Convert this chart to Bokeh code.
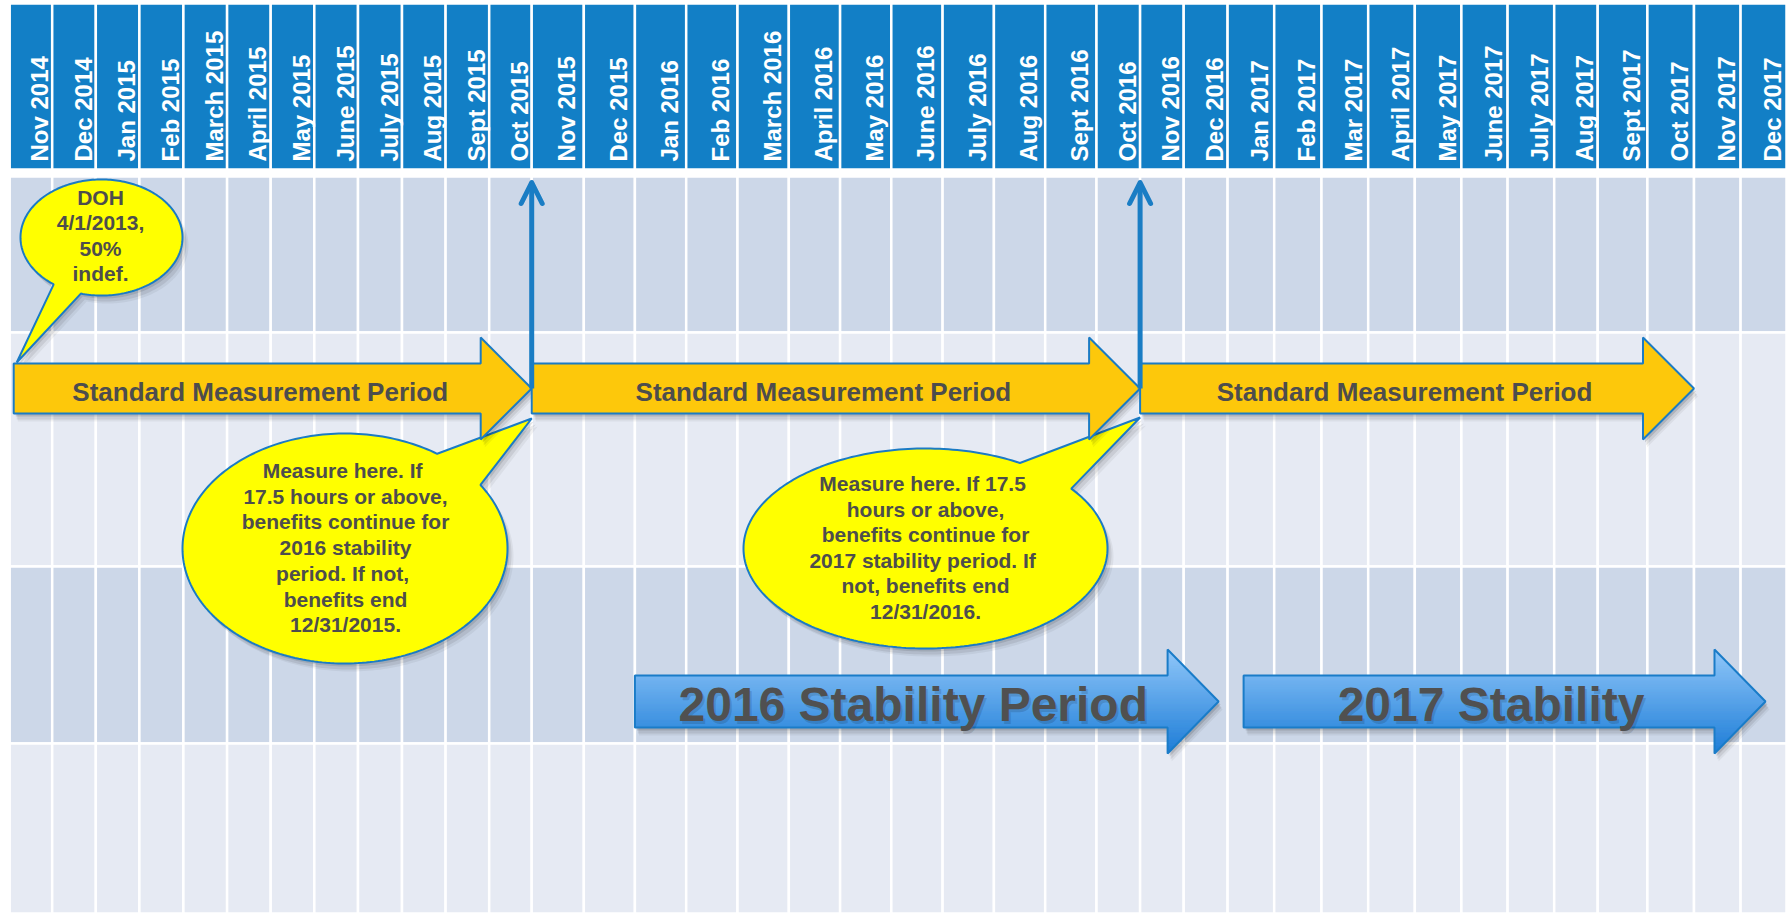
import numpy as np
from bokeh.plotting import figure
from bokeh.models import Range1d, Arrow, OpenHead
from bokeh.core.properties import value
from bokeh.embed import file_html
from bokeh.resources import INLINE

# ---------------- data ----------------
months = ["Nov  2014", "Dec  2014", "Jan  2015", "Feb  2015", "March  2015", "April  2015",
          "May 2015", "June 2015", "July 2015", "Aug 2015", "Sept  2015", "Oct  2015",
          "Nov  2015", "Dec  2015", "Jan  2016", "Feb 2016", "March 2016", "April 2016",
          "May 2016", "June 2016", "July 2016", "Aug 2016", "Sept 2016", "Oct  2016",
          "Nov  2016", "Dec  2016", "Jan  2017", "Feb 2017", "Mar 2017", "April 2017",
          "May 2017", "June 2017", "July 2017", "Aug 2017", "Sept 2017", "Oct 2017",
          "Nov 2017", "Dec 2017"]

measurement_labels = ["Standard Measurement Period", "Standard Measurement Period",
                      "Standard Measurement Period"]
measurement_start = ["Nov  2014", "Nov  2015", "Nov  2016"]
measurement_end = ["Oct  2015", "Oct  2016", "Oct 2017"]

stability_labels = ["2016 Stability Period", "2017 Stability"]
stability_start = ["Jan  2016", "Jan  2017"]
stability_end = ["Dec  2016", "Dec 2017"]

measure_points = ["Oct  2015", "Oct  2016"]

callout_doh = ["DOH", "4/1/2013,", "50%", "indef."]
callout_2015 = ["Measure here.  If", "17.5 hours or above,", "benefits continue for",
                "2016 stability", "period.  If not,", "benefits end", "12/31/2015."]
callout_2016 = ["Measure here.  If 17.5", "hours or above,", "benefits continue for",
                "2017 stability period.  If", "not, benefits end", "12/31/2016."]

# ---------------- layout (page pixels) ----------------
col_widths = [42.5, 43.6, 43.6, 44.0, 43.7, 43.6, 43.6, 43.7, 44.0, 43.6, 43.6, 42.5,
              52.1, 51.1, 51.3, 51.3, 51.3, 51.3, 51.2, 51.3, 51.3, 51.3, 51.3, 43.6,
              43.6, 43.9, 46.6, 47.3, 46.7, 46.6, 46.6, 46.2, 46.6, 43.5, 49.7, 46.6,
              46.6, 45.9]
X0 = 9.2
edges = X0 + np.concatenate([[0.0], np.cumsum(col_widths)])


def m_left(m):
    return float(edges[months.index(m)])


def m_right(m):
    return float(edges[months.index(m) + 1])


HEAD_TOP, HEAD_BOT = 3, 169
row_edges = [176, 332, 566, 743, 913]
row_colors = ["#CCD7E8", "#E6EAF3", "#CCD7E8", "#E6EAF3"]
HEADER_BLUE = "#127FC6"
OUTLINE = "#1B7BC4"
TEXT_GRAY = "#4D4D4D"
FONT = value("Liberation Sans")

SMP_YC, SMP_BH, SMP_HH, SMP_HL = 388, 25, 51, 51
smp_inset_left = [4, 0, 0]
STAB_YC, STAB_BH, STAB_HH, STAB_HL = 701, 26, 52, 51
stab_inset_left = [0, 16]
stab_inset_right = [9, 21]

W, H = 1789, 914


def Y(ys):
    return [-y for y in ys]


p = figure(width=W, height=H, x_range=Range1d(0, W), y_range=Range1d(-H, 0),
           toolbar_location=None, output_backend="svg", x_axis_type=None, y_axis_type=None,
           min_border=0, outline_line_color=None, background_fill_color="white",
           border_fill_color="white")

# ---------- header cells ----------
n = len(months)
p.quad(left=list(edges[:-1]), right=list(edges[1:]), top=[-HEAD_TOP] * n,
       bottom=[-HEAD_BOT] * n, fill_color=HEADER_BLUE, line_color="white", line_width=2.5)

centers = (edges[:-1] + edges[1:]) / 2
p.text(x=list(centers + 9), y=[-161] * n, text=months, angle=np.pi / 2,
       text_font=FONT, text_font_style="bold", text_font_size="24px", text_color="white",
       text_align="left", text_baseline="middle")

# ---------- grid cells ----------
L, R, T, B, C = [], [], [], [], []
for r in range(4):
    for i in range(n):
        L.append(edges[i]); R.append(edges[i + 1])
        T.append(-row_edges[r]); B.append(-row_edges[r + 1]); C.append(row_colors[r])
p.quad(left=L, right=R, top=T, bottom=B, fill_color=C, line_color="white", line_width=2.5)


# ---------- shapes ----------
def arrow_poly(x0, x1, yc, bh, hh, hl):
    xb = x1 - hl
    xs = [x0, xb, xb, x1, xb, xb, x0]
    ys = [yc - bh, yc - bh, yc - hh, yc, yc + hh, yc + bh, yc + bh]
    return xs, ys


def arrow_bands(x0, x1, yc, bh, hh, hl, nb=60):
    xb = x1 - hl

    def rx(y):
        return x1 - hl * abs(y - yc) / hh
    cuts = np.unique(np.round(np.concatenate(
        [np.linspace(yc - hh, yc + hh, nb + 1), [yc - bh, yc, yc + bh]]), 4))
    out = []
    for ya, yb in zip(cuts[:-1], cuts[1:]):
        ym = (ya + yb) / 2
        lx = x0 if abs(ym - yc) < bh else xb
        out.append(([lx, rx(ya), rx(yb), lx], [ya, ya, yb, yb],
                    (ym - (yc - hh)) / (2 * hh)))
    return out


def bubble_poly(cx, cy, rx, ry, A, Bp, tip, npts=240):
    tA = np.arctan2((A[1] - cy) / ry, (A[0] - cx) / rx)
    tB = np.arctan2((Bp[1] - cy) / ry, (Bp[0] - cx) / rx)
    d = (tB - tA + np.pi) % (2 * np.pi) - np.pi
    ts = tB + np.sign(d) * np.linspace(0, 2 * np.pi - abs(d), npts)
    xs = [tip[0]] + list(cx + rx * np.cos(ts))
    ys = [tip[1]] + list(cy + ry * np.sin(ts))
    return xs, ys


def add_shadow(xs, ys, layers=((2, 3, 0.10), (4, 6, 0.08), (6, 8, 0.05))):
    for dx, dy, a in layers:
        p.patch([x + dx for x in xs], Y([y + dy for y in ys]), fill_color="black",
                fill_alpha=a, line_color=None)


# ---------- callout bubbles ----------
smp_x0 = [m_left(s) + smp_inset_left[i] for i, s in enumerate(measurement_start)]
bubbles = [
    dict(c=(101, 237), r=(81, 58), A=(53, 284), B=(80, 294),
         tip=(smp_x0[0] + 3, SMP_YC - SMP_BH - 1), lines=callout_doh,
         tx=100, ty0=197, dy=25.3),
    dict(c=(344.5, 548), r=(162.5, 115), A=(437, 453), B=(481, 484),
         tip=(m_right(measure_points[0]), 418), lines=callout_2015,
         tx=345, ty0=470, dy=25.7),
    dict(c=(925, 548), r=(182, 100), A=(1020, 462), B=(1071, 488),
         tip=(m_right(measure_points[1]), 417), lines=callout_2016,
         tx=925, ty0=483, dy=25.6),
]
for b in bubbles:
    xs, ys = bubble_poly(b["c"][0], b["c"][1], b["r"][0], b["r"][1], b["A"], b["B"], b["tip"])
    add_shadow(xs, ys)
    p.patch(xs, Y(ys), fill_color="#FFFF00", line_color=OUTLINE, line_width=2)
    k = len(b["lines"])
    p.text(x=[b["tx"]] * k, y=Y([b["ty0"] + i * b["dy"] for i in range(k)]), text=b["lines"],
           text_font=FONT, text_font_style="bold", text_font_size="21px",
           text_color=TEXT_GRAY, text_align="center", text_baseline="middle")

# ---------- standard measurement period arrows ----------
for i, (lab, s, e) in enumerate(zip(measurement_labels, measurement_start, measurement_end)):
    x0 = smp_x0[i]
    x1 = m_right(e)
    xs, ys = arrow_poly(x0, x1, SMP_YC, SMP_BH, SMP_HH, SMP_HL)
    add_shadow(xs, ys, layers=((2, 3, 0.12), (3, 6, 0.08), (4, 8, 0.05)))
    p.patch(xs, Y(ys), fill_color="#FDC80B", line_color=OUTLINE, line_width=2)
    p.text(x=[(x0 + x1 - SMP_HL) / 2 + 13], y=[-(SMP_YC + 3)], text=[lab],
           text_font=FONT, text_font_style="bold", text_font_size="26px",
           text_color=TEXT_GRAY, text_align="center", text_baseline="middle")

# ---------- vertical "measure here" arrows ----------
for m in measure_points:
    xm = m_right(m)
    p.add_layout(Arrow(end=OpenHead(size=21, line_color="#1A7DC4", line_width=5,
                                    line_join="round", line_cap="round"),
                       x_start=xm, y_start=-SMP_YC, x_end=xm, y_end=-182,
                       line_color="#1A7DC4", line_width=5))

# ---------- stability period arrows ----------
c_top = np.array([146, 200, 250])
c_bot = np.array([30, 126, 216])
for i, (lab, s, e) in enumerate(zip(stability_labels, stability_start, stability_end)):
    x0 = m_left(s) + stab_inset_left[i]
    x1 = m_right(e) - stab_inset_right[i]
    xs, ys = arrow_poly(x0, x1, STAB_YC, STAB_BH, STAB_HH, STAB_HL)
    add_shadow(xs, ys, layers=((2, 3, 0.12), (3, 6, 0.08), (4, 8, 0.05)))
    bands = arrow_bands(x0, x1, STAB_YC, STAB_BH, STAB_HH, STAB_HL)
    cols = []
    for _, _, t in bands:
        c = (c_top + (c_bot - c_top) * t).astype(int)
        cols.append("#%02x%02x%02x" % tuple(c))
    p.patches(xs=[bx for bx, _, _ in bands], ys=[Y(by) for _, by, _ in bands],
              fill_color=cols, line_color=cols, line_width=1)
    p.patch(xs, Y(ys), fill_color=None, line_color="#1A7CC8", line_width=2)
    tx = (x0 + x1 - STAB_HL) / 2 + 12
    p.text(x=[tx + 2], y=[-(STAB_YC + 6)], text=[lab], text_font=FONT,
           text_font_style="bold", text_font_size="48px", text_color="black",
           text_alpha=0.13, text_align="center", text_baseline="middle")
    p.text(x=[tx], y=[-(STAB_YC + 3)], text=[lab], text_font=FONT,
           text_font_style="bold", text_font_size="48px", text_color="#505050",
           text_align="center", text_baseline="middle")

open("out.html", "w").write(file_html(p, INLINE))
